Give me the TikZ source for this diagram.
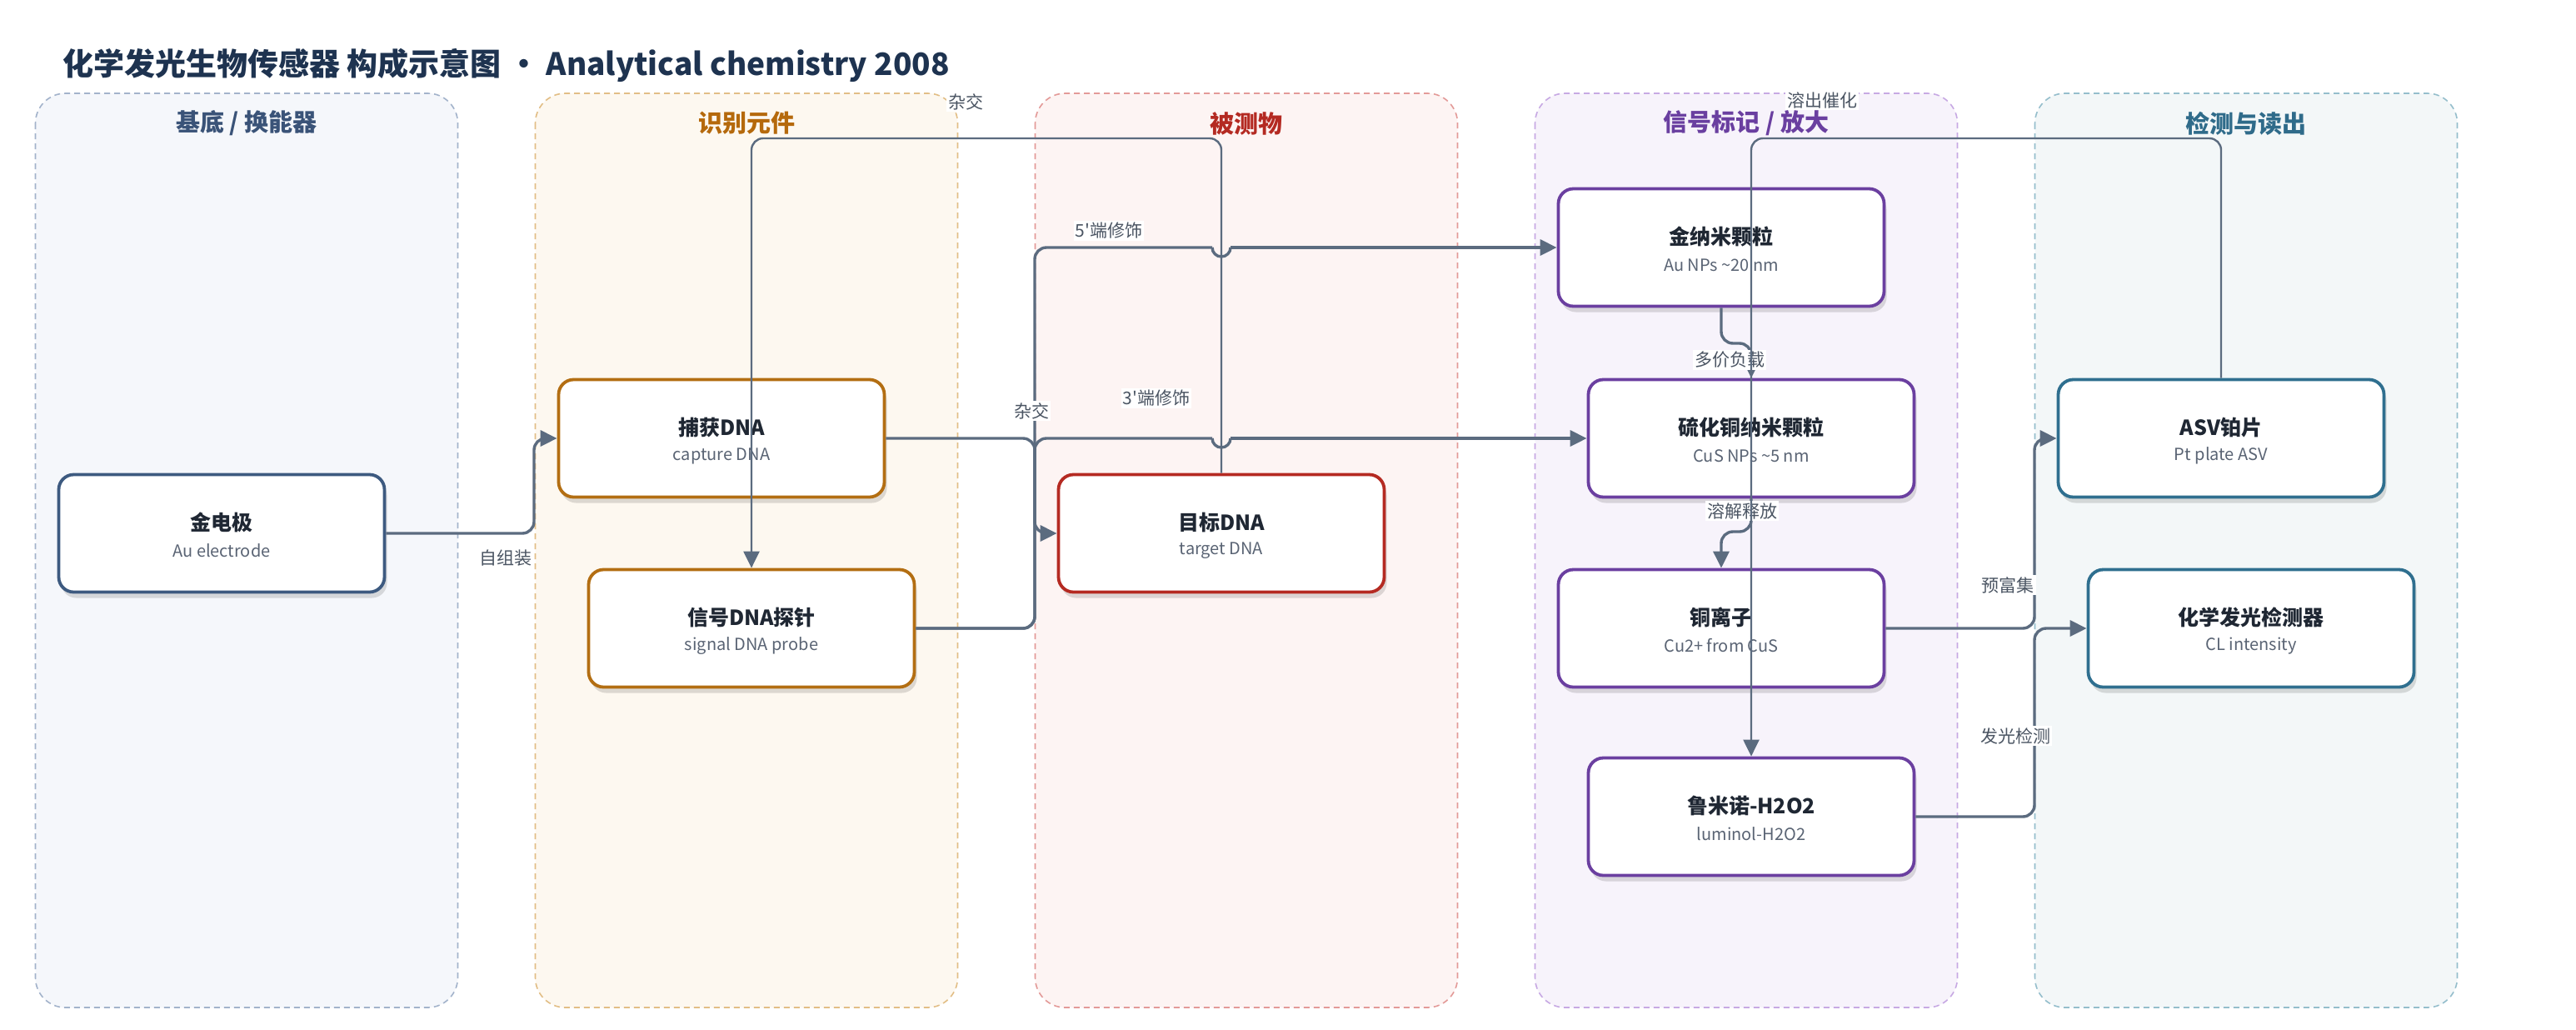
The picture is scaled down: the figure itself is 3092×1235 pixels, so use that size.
\documentclass[tikz,border=0pt]{standalone}
\usepackage{fontspec}
\setmainfont{Noto Sans CJK SC}
\newfontfamily\plainq{Noto Sans CJK SC}
\usetikzlibrary{arrows.meta,shadows,calc}
\definecolor{edgec}{HTML}{5B6B7F}
\definecolor{titlec}{HTML}{1E3350}
\definecolor{darkt}{HTML}{1F2733}
\definecolor{subt}{HTML}{5A6474}
\definecolor{labt}{HTML}{4B5563}
\definecolor{lAf}{HTML}{F5F7FB}\definecolor{lAb}{HTML}{A3B3CB}\definecolor{lAt}{HTML}{3A5378}\definecolor{nA}{HTML}{3D5A80}
\definecolor{lBf}{HTML}{FDF8F0}\definecolor{lBb}{HTML}{E2BE86}\definecolor{lBt}{HTML}{B5690C}\definecolor{nB}{HTML}{B36E12}
\definecolor{lCf}{HTML}{FDF4F3}\definecolor{lCb}{HTML}{E39A98}\definecolor{lCt}{HTML}{B42A22}\definecolor{nC}{HTML}{B52A22}
\definecolor{lDf}{HTML}{F7F3FB}\definecolor{lDb}{HTML}{C7A9E3}\definecolor{lDt}{HTML}{6A3FA0}\definecolor{nD}{HTML}{6B3FA0}
\definecolor{lEf}{HTML}{F3F7F8}\definecolor{lEb}{HTML}{95BECC}\definecolor{lEt}{HTML}{2F6B8A}\definecolor{nE}{HTML}{2F6F8F}
\tikzset{
  lane/.style={rounded corners=36pt, dash pattern=on 7pt off 5pt, line width=1.6pt},
  lanetitle/.style={font=\fontsize{29}{34}\selectfont\bfseries, inner sep=0pt},
  box/.style={rounded corners=18pt, fill=white, line width=3.8pt, minimum width=391pt, minimum height=141pt,
    drop shadow={shadow xshift=3pt, shadow yshift=-7pt, opacity=0.13, fill=black}},
  ntitle/.style={font=\fontsize{25}{30}\selectfont\bfseries, text=darkt, inner sep=0pt},
  nsub/.style={font=\fontsize{20}{24}\selectfont, text=subt, inner sep=0pt},
  edge/.style={draw=edgec, line width=3.4pt, rounded corners=14pt},
  thinedge/.style={line width=2.4pt},
  arr/.style={-{Triangle[length=20pt,width=19pt]}},
  elabel/.style={font=\plainq\fontsize{21}{25}\selectfont, text=labt, fill=white, inner sep=2pt},
}
\newcommand\mkbox[6]{%
  \node[box,draw=#4] (#1) at (#2,#3) {};
  \node[ntitle] (#1-t) at ([yshift=13pt]#1.center) {#5};
  \node[nsub] (#1-s) at ([yshift=-21pt]#1.center) {#6};
}
\begin{document}
\begin{tikzpicture}[x=1pt,y=-1pt]
\path[use as bounding box, fill=white] (0,0) rectangle (3092,1235);
% title
\node[anchor=base west, font=\fontsize{37}{44}\selectfont\bfseries, text=titlec, inner sep=0pt] (title) at (75,90)
  {化学发光生物传感器 构成示意图 • Analytical chemistry 2008};
% lanes
\draw[lane, draw=lAb, fill=lAf] (42.5,112) rectangle (549.5,1209);
\draw[lane, draw=lBb, fill=lBf] (642.5,112) rectangle (1149.5,1209);
\draw[lane, draw=lCb, fill=lCf] (1242.5,112) rectangle (1749.5,1209);
\draw[lane, draw=lDb, fill=lDf] (1842.5,112) rectangle (2349.5,1209);
\draw[lane, draw=lEb, fill=lEf] (2442.5,112) rectangle (2949.5,1209);
\node[lanetitle, text=lAt] (lt1) at (296,148) {基底 / 换能器};
\node[lanetitle, text=lBt] (lt2) at (896,148) {识别元件};
\node[lanetitle, text=lCt] (lt3) at (1496,148) {被测物};
\node[lanetitle, text=lDt] (lt4) at (2096,148) {信号标记 / 放大};
\node[lanetitle, text=lEt] (lt5) at (2696,148) {检测与读出};
% nodes
\mkbox{au}{266}{640}{nA}{金电极}{Au electrode}
\mkbox{cap}{866}{526}{nB}{捕获DNA}{capture DNA}
\mkbox{sig}{902}{754}{nB}{信号DNA探针}{signal DNA probe}
\mkbox{tgt}{1466}{640}{nC}{目标DNA}{target DNA}
\mkbox{aunp}{2066}{297}{nD}{金纳米颗粒}{Au NPs \textasciitilde20 nm}
\mkbox{cus}{2102}{526}{nD}{硫化铜纳米颗粒}{CuS NPs \textasciitilde5 nm}
\mkbox{cu}{2066}{754}{nD}{铜离子}{Cu2+ from CuS}
\mkbox{lum}{2102}{980}{nD}{鲁米诺-H2O2}{luminol-H2O2}
\mkbox{asv}{2666}{526}{nE}{ASV铂片}{Pt plate ASV}
\mkbox{cl}{2702}{754}{nE}{化学发光检测器}{CL intensity}
% thick edges
\draw[edge,arr] (au.east) -- (641,640) -- (641,526) -- (cap.west);
\draw[edge,arr] (cap.east) -- (1242,526) -- (1242,640) -- (tgt.west);
\draw[edge] (sig.east) -- (1242,754) -- (1242,297) -- (1455,297);
\draw[edge] (1455,297) arc[start angle=180, end angle=0, radius=11];
\draw[edge,arr] (1477,297) -- (aunp.west);
\draw[edge] (sig.east) -- (1242,754) -- (1242,526) -- (1455,526);
\draw[edge] (1455,526) arc[start angle=180, end angle=0, radius=11];
\draw[edge,arr] (1477,526) -- (cus.west);
\draw[edge,arr] (aunp.south) -- (2066,412) -- (2102,412) -- (cus.north);
\draw[edge,arr] (cus.south) -- (2102,638) -- (2066,638) -- (cu.north);
\draw[edge,arr] (cu.east) -- (2442,754) -- (2442,526) -- (asv.west);
\draw[edge,arr] (lum.east) -- (2442,980) -- (2442,754) -- (cl.west);
% labels
\node[elabel] (l1) at (607,670) {自组装};
\node[elabel] (l2) at (1159,122) {杂交};
\node[elabel] (l3) at (1238,493) {杂交};
\node[elabel] (l4) at (1331,277) {5'端修饰};
\node[elabel] (l5) at (1388,478) {3'端修饰};
\node[elabel] (l6) at (2076,432) {多价负载};
\node[elabel] (l7) at (2091,613) {溶解释放};
\node[elabel] (l8) at (2187,120) {溶出催化};
\node[elabel] (l9) at (2410,702) {预富集};
\node[elabel] (l10) at (2419,883) {发光检测};
% thin edges
\coordinate (topA) at (0,166);
\draw[edge,thinedge,arr] (tgt.north) -- (tgt.north |- topA) -- (sig.north |- topA) -- (sig.north);
\draw[edge,thinedge,arr] (asv.north) -- (asv.north |- topA) -- (lum.north |- topA) -- (lum.north);
\end{tikzpicture}
\end{document}
